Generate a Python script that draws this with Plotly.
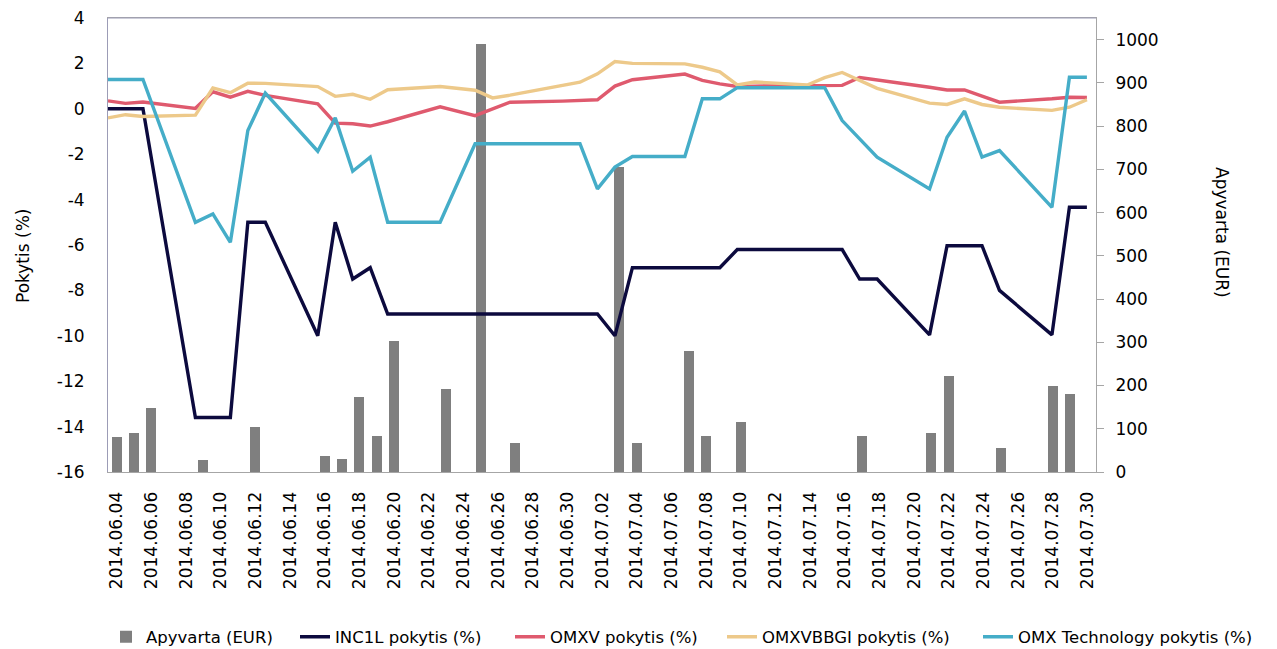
import plotly.graph_objects as go

# Trading days (lines + bars share these dates)
dates = [
    "2014-06-04", "2014-06-05", "2014-06-06", "2014-06-09", "2014-06-10", "2014-06-11",
    "2014-06-12", "2014-06-13", "2014-06-16", "2014-06-17", "2014-06-18", "2014-06-19",
    "2014-06-20", "2014-06-23", "2014-06-25", "2014-06-26", "2014-06-27", "2014-06-30",
    "2014-07-01", "2014-07-02", "2014-07-03", "2014-07-04", "2014-07-07", "2014-07-08",
    "2014-07-09", "2014-07-10", "2014-07-11", "2014-07-14", "2014-07-15", "2014-07-16",
    "2014-07-17", "2014-07-18", "2014-07-21", "2014-07-22", "2014-07-23", "2014-07-24",
    "2014-07-25", "2014-07-28", "2014-07-29", "2014-07-30",
]

apyvarta_eur = [
    80, 90, 148, 27, 0, 0, 104, 0, 37, 30, 174, 84,
    302, 191, 990, 0, 66, 0,
    0, 0, 706, 66, 281, 84,
    0, 115, 0, 0, 0, 0,
    84, 0, 90, 223, 0, 0,
    55, 198, 181, 0,
]

inc1l_pct = [
    0.0, 0.0, 0.0, -13.6, -13.6, -13.6, -5.0, -5.0, -10.0, -5.0, -7.5, -7.0,
    -9.04, -9.04, -9.04, -9.04, -9.04, -9.04,
    -9.04, -9.04, -10.0, -7.0, -7.0, -7.0,
    -7.0, -6.2, -6.2, -6.2, -6.2, -6.2,
    -7.5, -7.5, -9.96, -6.03, -6.03, -6.03,
    -8.0, -9.96, -4.34, -4.34,
]

omxv_pct = [
    0.35, 0.24, 0.30, 0.02, 0.75, 0.51, 0.77, 0.59, 0.22, -0.63, -0.66, -0.76,
    -0.57, 0.09, -0.30, 0.0, 0.29, 0.34,
    0.37, 0.40, 1.0, 1.28, 1.53, 1.25,
    1.10, 0.98, 1.0, 1.03, 1.03, 1.03,
    1.38, 1.28, 0.95, 0.83, 0.83, 0.56,
    0.29, 0.44, 0.51, 0.50,
]

omxvbbgi_pct = [
    -0.40, -0.26, -0.34, -0.28, 0.92, 0.71, 1.13, 1.12, 0.98, 0.55, 0.64, 0.42,
    0.84, 0.98, 0.82, 0.48, 0.60, 1.03,
    1.17, 1.54, 2.08, 2.0, 1.98, 1.83,
    1.63, 1.05, 1.18, 1.05, 1.37, 1.6,
    1.23, 0.9, 0.25, 0.19, 0.44, 0.19,
    0.07, -0.07, 0.07, 0.40,
]

omx_tech_pct = [
    1.29, 1.29, 1.29, -5.0, -4.63, -5.88, -0.96, 0.69, -1.87, -0.40, -2.75, -2.13,
    -5.0, -5.0, -1.54, -1.54, -1.54, -1.54,
    -1.54, -3.53, -2.57, -2.10, -2.10, 0.44,
    0.44, 0.93, 0.93, 0.93, 0.93, -0.52,
    -1.3, -2.13, -3.53, -1.25, -0.10, -2.13,
    -1.84, -4.34, 1.39, 1.39,
]

left_ticks = [-16, -14, -12, -10, -8, -6, -4, -2, 0, 2, 4]
left_tick_labels = ["-16", "-14", "-12", "-10", "-8", "-6", "-4", "-2", "0", "2", "4"]

series_names = [
    "Apyvarta (EUR)", "INC1L pokytis (%)", "OMXV pokytis (%)",
    "OMXVBBGI pokytis (%)", "OMX Technology pokytis (%)",
]
line_series = [inc1l_pct, omxv_pct, omxvbbgi_pct, omx_tech_pct]
line_colors = ["#0c0a3e", "#df5a6e", "#edc98a", "#45adc8"]

DAY = 86400000
FONT = "DejaVu Sans"

fig = go.Figure()
fig.add_trace(go.Bar(
    x=dates, y=apyvarta_eur, name=series_names[0],
    xaxis="x", yaxis="y2", width=0.58 * DAY,
    marker=dict(color="#7f7f7f", line=dict(width=0)),
    legend="legend",
))
legend_ids = ["legend2", "legend3", "legend4", "legend5"]
for vals, name, col, lg in zip(line_series, series_names[1:], line_colors, legend_ids):
    fig.add_trace(go.Scatter(
        x=dates, y=vals, name=name, mode="lines",
        xaxis="x2", yaxis="y",
        line=dict(color=col, width=3.4),
        legend=lg,
    ))

# page body has an 8px margin: work in figure coordinates = screen - 8
OFF = 8
W, H = 1277 - OFF, 649 - OFF
PL, PR, PT, PB = 108 - OFF, 1096 - OFF, 18 - OFF, 472 - OFF
pw, ph = PR - PL, PB - PT

def px_x(screen_x):
    return (screen_x - OFF - PL) / pw

def px_y(screen_y):
    return (PB - (screen_y - OFF)) / ph

legend_text_starts = [154, 343, 558, 770, 1026]
leg_common = dict(orientation="h", yanchor="middle", xanchor="left",
                  bgcolor="rgba(0,0,0,0)", font=dict(family=FONT, size=16.5, color="#000"))
legends = {}
for k, ts in zip(["legend", "legend2", "legend3", "legend4", "legend5"], legend_text_starts):
    legends[k] = dict(leg_common, x=px_x(ts - 48), y=px_y(637))

fig.update_layout(
    width=W, height=H,
    margin=dict(l=PL, r=W - PR, t=PT, b=H - PB, autoexpand=False),
    plot_bgcolor="rgba(0,0,0,0)", paper_bgcolor="white",
    font=dict(family=FONT, size=17, color="#000"),
    showlegend=True,
    bargap=0,
    xaxis=dict(
        type="date", range=["2014-06-03 12:00", "2014-07-30 12:00"],
        tick0="2014-06-04", dtick=2 * DAY, tickformat="%Y.%m.%d", tickangle=-90,
        showline=True, linecolor="#a6a6a6", linewidth=1, mirror=True,
        showgrid=False, ticks="", ticklabelstandoff=12, automargin=False,
        ticklabeloverflow="allow",
        tickfont=dict(family=FONT, size=17, color="#000"),
    ),
    xaxis2=dict(
        type="date", overlaying="x", range=["2014-06-04", "2014-07-30 12:30"],
        visible=False, showgrid=False,
    ),
    yaxis=dict(
        range=[-16, 4], tickvals=left_ticks, ticktext=left_tick_labels,
        showgrid=False, zeroline=False, automargin=False,
        showline=True, linecolor="#9c9cb6", linewidth=1, ticks="",
        ticklabeloverflow="allow",
        ticklabelstandoff=19, tickfont=dict(family=FONT, size=17, color="#000"),
    ),
    yaxis2=dict(
        overlaying="y", side="right", range=[0, 1050], dtick=100, automargin=False,
        showgrid=False, zeroline=False, showline=True, linecolor="#a6a6a6", linewidth=1,
        ticks="outside", ticklen=7, tickcolor="#a6a6a6", ticklabelstandoff=8,
        ticklabeloverflow="allow",
        tickfont=dict(family=FONT, size=17, color="#000"),
    ),
    shapes=[
        dict(type="line", xref="paper", yref="paper", x0=0, x1=1, y0=1, y1=1,
             line=dict(color="#9c9cb6", width=1), layer="above"),
    ],
    annotations=[
        dict(text="Pokytis (%)", x=px_x(23), y=px_y(256), xref="paper", yref="paper",
             xanchor="center", yanchor="middle",
             showarrow=False, textangle=-90, font=dict(family=FONT, size=17, color="#000")),
        dict(text="Apyvarta (EUR)", x=px_x(1222), y=px_y(232), xref="paper", yref="paper",
             xanchor="center", yanchor="middle",
             showarrow=False, textangle=90, font=dict(family=FONT, size=17, color="#000")),
    ],
    **legends,
)

fig.write_html("out.html")
